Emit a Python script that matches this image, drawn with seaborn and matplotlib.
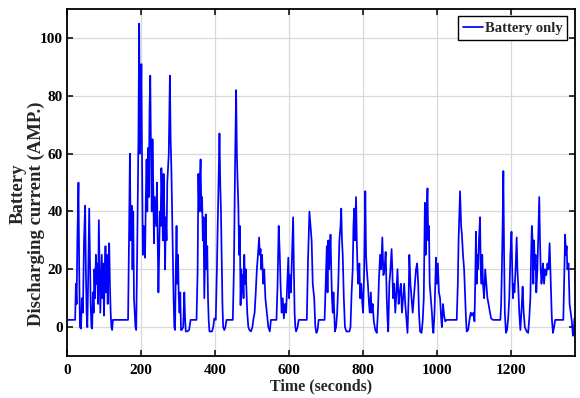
import numpy as np
import pandas as pd
import matplotlib
matplotlib.use("Agg")
import matplotlib.pyplot as plt
import seaborn as sns

# time (s) / battery discharging current (A)
time_s = [
    0, 20, 22, 24, 26, 28, 31, 33, 35, 38, 40, 43, 46, 49, 51, 53, 55, 57, 60, 62,
    64, 66, 68, 70, 72, 74, 76, 78, 80, 82, 84, 86, 88, 90, 92, 94, 96, 98, 100, 102,
    104, 106, 108, 110, 112, 114, 116, 118, 120, 122, 124, 165, 168, 170, 172, 175, 177, 179, 181, 183,
    185, 187, 190, 193, 195, 197, 199, 201, 203, 205, 207, 209, 211, 213, 215, 217, 219, 221, 223, 225,
    227, 229, 231, 233, 235, 237, 239, 241, 243, 245, 247, 249, 251, 253, 255, 257, 259, 261, 263, 265,
    267, 269, 271, 273, 275, 278, 280, 282, 284, 286, 288, 290, 292, 294, 296, 298, 300, 302, 304, 306,
    308, 310, 314, 317, 319, 321, 325, 330, 334, 350, 353, 355, 357, 359, 361, 363, 365, 367, 369, 371,
    373, 375, 377, 379, 381, 383, 385, 392, 395, 398, 402, 405, 408, 410, 412, 414, 416, 418, 420, 422,
    425, 428, 431, 448, 451, 454, 457, 459, 461, 463, 465, 467, 469, 471, 473, 475, 477, 479, 481, 483,
    485, 487, 490, 493, 497, 501, 504, 507, 510, 513, 516, 519, 521, 523, 525, 527, 530, 533, 536, 540,
    544, 548, 551, 566, 569, 572, 575, 577, 580, 583, 586, 589, 592, 595, 598, 600, 602, 605, 608, 611,
    613, 615, 617, 619, 623, 626, 648, 651, 655, 658, 661, 664, 668, 671, 674, 677, 680, 696, 699, 702,
    704, 706, 708, 710, 712, 714, 716, 718, 720, 722, 724, 727, 730, 733, 736, 739, 741, 743, 745, 748,
    751, 755, 763, 766, 769, 772, 774, 776, 778, 781, 783, 785, 787, 790, 792, 795, 798, 800, 803, 806,
    808, 810, 813, 816, 818, 821, 823, 826, 829, 833, 837, 840, 843, 846, 849, 852, 855, 858, 861, 864,
    866, 868, 871, 874, 877, 879, 881, 884, 887, 890, 893, 896, 899, 902, 905, 908, 911, 914, 917, 920,
    923, 925, 928, 931, 934, 937, 940, 943, 946, 949, 951, 954, 958, 961, 964, 967, 969, 971, 974, 976,
    978, 980, 983, 986, 988, 990, 993, 995, 997, 999, 1002, 1005, 1008, 1011, 1013, 1016, 1019, 1022, 1026, 1053,
    1056, 1058, 1062, 1065, 1067, 1070, 1073, 1076, 1078, 1080, 1084, 1088, 1091, 1094, 1098, 1101, 1103, 1105, 1107, 1109,
    1111, 1113, 1116, 1118, 1120, 1122, 1124, 1127, 1130, 1133, 1136, 1139, 1143, 1146, 1151, 1171, 1173, 1175, 1177, 1179,
    1181, 1183, 1186, 1189, 1192, 1195, 1198, 1201, 1203, 1205, 1207, 1209, 1212, 1215, 1217, 1219, 1222, 1225, 1229, 1231,
    1234, 1237, 1242, 1246, 1249, 1252, 1254, 1256, 1258, 1260, 1262, 1264, 1266, 1268, 1271, 1274, 1276, 1278, 1280, 1282,
    1284, 1286, 1289, 1292, 1295, 1298, 1301, 1304, 1306, 1308, 1310, 1313, 1316, 1319, 1341, 1343, 1346, 1348, 1350, 1352,
    1355, 1358, 1361, 1364, 1367, 1369, 1371,
]
current_a = [
    2.5, 2.5, 2.5, 15, 8, 30, 50, 20, 0, -0.5, 10, 5, 30, 42, 20, 5, 0, 15, 41, 25,
    8, 0, -0.5, 12, 5, 20, 10, 25, 15, 22, 8, 37, 20, 5, 15, 25, 10, 22, 4, 18,
    28, 12, 25, 8, 20, 29, 15, 5, 0, -1, 2.5, 2.5, 35, 60, 30, 42, 20, 40, 10, 5,
    0, -1, 30, 65, 105, 60, 70, 91, 55, 25, 35, 30, 24, 45, 58, 40, 62, 45, 75, 87,
    60, 40, 65, 50, 29, 45, 40, 35, 50, 30, 12, 25, 40, 35, 55, 45, 30, 53, 40, 20,
    38, 30, 50, 55, 60, 87, 65, 55, 40, 25, 10, 0, -1, 20, 35, 15, 25, 10, 5, 12,
    -1, -1, 0, 12, 3, -1.5, -1.5, -1, 2.5, 2.5, 20, 53, 40, 50, 58, 40, 45, 30, 38, 10,
    25, 39, 20, 28, 10, 2, -1.5, -1.5, 0, 3, 2.5, 20, 40, 55, 67, 50, 40, 25, 8, 0,
    -1, 0, 2.5, 2.5, 20, 55, 82, 60, 50, 42, 25, 35, 7.6, 20, 12, 18, 10, 25, 15, 20,
    12, 5, 0, -1, -1.5, 0, 3, 5, 12, 20, 25, 31, 25, 27, 20, 25, 15, 20, 10, 5,
    0, -1.5, 2.5, 2.5, 15, 35, 25, 15, 5, 10, 3, 8, 5, 15, 24, 10, 18, 12, 25, 38,
    20, 5, 0, -1.5, 0, 2.5, 2.5, 22, 40, 35, 30, 15, 10, 0, -2, -1, 2.5, 2.5, 15, 28,
    12, 30, 20, 25, 32, 20, 10, 5, 12, 5, -1.5, 0, 5, 15, 30, 35, 41, 30, 25, 10,
    0, -1.5, -1.5, 0, 12, 20, 35, 41, 30, 45, 30, 20, 15, 22, 10, 15, 8, 5, 20, 47,
    25, 20, 15, 8, 5, 12, 5, 8, 2, -1, -2, 5, 17, 25, 20, 31, 18, 20, 26, 10,
    3, -1.5, 15, 20, 27, 20, 10, 15, 5, 12, 20, 8, 12, 15, 5, 10, 15, 8, 3, -2,
    10, 25, 15, 10, 5, 10, 15, 20, 22, 15, 5, -1.5, -2, 2, 10, 43, 25, 35, 48, 30,
    35, 15, 10, 5, 0, -2, 5, 15, 24, 15, 22, 12, 10, 3, 0, 8, 4, 2, 2.5, 2.5,
    15, 30, 47, 35, 32, 25, 20, 10, 3, -1.5, -1, 3, 5, 4, 5, 2, 15, 33, 15, 25,
    20, 30, 38, 20, 15, 25, 15, 10, 20, 15, 10, 8, 5, 3, 2.5, 2.5, 8, 20, 35, 54,
    25, 5, -2, -1, 3, 10, 25, 33, 20, 10, 15, 12, 20, 31, 20, 15, 5, -1, 8, 14,
    5, 0, -1.5, -2, 3, 10, 25, 35, 30, 15, 30, 20, 25, 12, 20, 35, 45, 30, 20, 15,
    18, 22, 15, 20, 18, 22, 20, 29, 20, 10, 3, -2, 0, 2.5, 2.5, 15, 32, 25, 28, 20,
    22, 8, 5, 2, -3, -2, 3,
]

df = pd.DataFrame({"Time": time_s, "Current": current_a})

sns.set_style("whitegrid")
plt.rcParams["font.family"] = ["Liberation Serif", "DejaVu Serif"]
plt.rcParams["font.weight"] = "bold"

fig = plt.figure(figsize=(5.8, 3.98), dpi=100)
ax = fig.add_axes([0.1155, 0.1055, 0.8755, 0.8715])

sns.lineplot(data=df, x="Time", y="Current", ax=ax, color=(0, 0, 1),
             linewidth=1.25, label="Battery only", estimator=None, sort=False)

ax.set_xlim(0, 1372)
ax.set_ylim(-10, 110)
ax.set_xticks([0, 200, 400, 600, 800, 1000, 1200])
ax.set_yticks([0, 20, 40, 60, 80, 100])

ax.grid(True, color="#d9d9d9", linewidth=0.9)
for s in ax.spines.values():
    s.set_visible(True)
    s.set_color("black")
    s.set_linewidth(1.3)

ax.tick_params(direction="in", length=4, width=1.1, colors="black",
               top=True, right=True, bottom=True, left=True,
               labelsize=11)
ax.tick_params(axis="y", pad=3)
ax.tick_params(axis="x", pad=6)
for lbl in ax.get_xticklabels() + ax.get_yticklabels():
    lbl.set_fontweight("bold")

ax.set_xlabel("Time (seconds)", fontsize=11.5, fontweight="bold", labelpad=1)
# two-line y label, lines offset as in the original figure
ax.set_ylabel("Discharging current (AMP.)", fontsize=13.5, fontweight="bold",
              ha="center", va="center")
ax.yaxis.set_label_coords(-0.061, 0.41)
fig.text(18 / 580, 1 - 194 / 398, "Battery", rotation=90, ha="center",
         va="center", fontsize=13.5, fontweight="bold")

leg = ax.legend(loc="upper right", frameon=True, fancybox=False,
                edgecolor="black", fontsize=10.5, handlelength=1.35,
                handletextpad=0.1, borderpad=0.35, borderaxespad=0.5)
leg.get_frame().set_linewidth(1.0)
leg.get_frame().set_alpha(1)
for t in leg.get_texts():
    t.set_fontweight("bold")

fig.savefig("out.png", dpi=100)
